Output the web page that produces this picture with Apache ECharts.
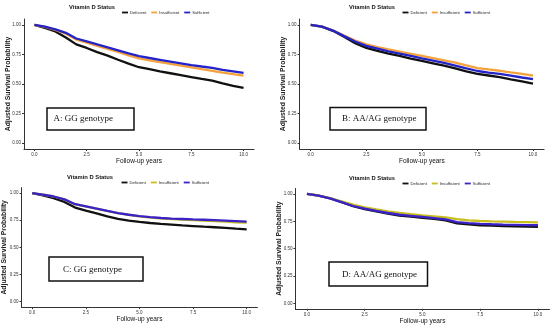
<!DOCTYPE html>
<html>
<head>
<meta charset="utf-8">
<script src="https://cdn.jsdelivr.net/npm/echarts@6/dist/echarts.min.js"></script>
<style>html,body{margin:0;padding:0;background:#fff}#c{width:550px;height:328px}</style>
</head>
<body>
<div id="c"></div>
<script>
// ---- data ----
const years = [0,0.5,1,1.5,2,2.5,3,3.5,4,4.5,5,5.5,6,6.5,7,7.5,8,8.5,9,9.5,10];
const statusNames = ['Deficient','Insufficient','Sufficient'];
const xTicks = [0,2.5,5,7.5,10];
const yTicks = [0,0.25,0.5,0.75,1];
const panelLabels = ['A: GG genotype','B: AA/AG genotype','C: GG genotype','D: AA/AG genotype'];

const defA = [1,0.975,0.945,0.893,0.835,0.805,0.77,0.74,0.705,0.672,0.642,0.625,0.607,0.591,0.575,0.559,0.543,0.528,0.505,0.485,0.467];
const insA = [1,0.983,0.958,0.926,0.876,0.85,0.823,0.797,0.771,0.743,0.716,0.70,0.685,0.67,0.655,0.64,0.625,0.612,0.597,0.584,0.571];
const sufA = [1,0.985,0.962,0.933,0.885,0.86,0.835,0.81,0.785,0.76,0.736,0.72,0.705,0.69,0.675,0.66,0.648,0.637,0.62,0.607,0.594];

const defB = [1,0.985,0.95,0.9,0.845,0.805,0.78,0.757,0.737,0.715,0.695,0.675,0.655,0.633,0.607,0.585,0.572,0.558,0.54,0.523,0.503];
const insB = [1,0.986,0.955,0.91,0.868,0.835,0.813,0.792,0.773,0.755,0.737,0.718,0.7,0.68,0.657,0.635,0.623,0.612,0.598,0.585,0.57];
const sufB = [1,0.985,0.952,0.905,0.86,0.823,0.8,0.777,0.757,0.737,0.717,0.698,0.678,0.656,0.632,0.61,0.597,0.585,0.57,0.555,0.541];

const defC = [1,0.978,0.952,0.918,0.866,0.838,0.812,0.786,0.762,0.746,0.734,0.724,0.716,0.709,0.702,0.696,0.69,0.685,0.679,0.672,0.666];
const insC = [1,0.985,0.968,0.942,0.897,0.877,0.856,0.835,0.816,0.8,0.785,0.774,0.766,0.76,0.755,0.75,0.746,0.742,0.736,0.731,0.727];
const sufC = [1,0.985,0.968,0.942,0.897,0.877,0.856,0.835,0.816,0.8,0.788,0.778,0.77,0.765,0.761,0.757,0.754,0.751,0.746,0.741,0.736];

const defD = [1,0.985,0.96,0.925,0.888,0.862,0.84,0.82,0.803,0.793,0.782,0.772,0.758,0.732,0.722,0.714,0.71,0.707,0.705,0.702,0.7];
const insD = [1,0.986,0.962,0.932,0.902,0.878,0.858,0.84,0.826,0.815,0.805,0.796,0.785,0.77,0.758,0.753,0.75,0.748,0.745,0.743,0.741];
const sufD = [1,0.985,0.96,0.925,0.89,0.865,0.845,0.826,0.81,0.8,0.79,0.78,0.767,0.743,0.733,0.727,0.723,0.72,0.718,0.716,0.714];

// ---- layout / style ----
const panels = [
  {grid:{left:24, top:19, width:230, height:130}, series:[defA,insA,sufA], colors:['#111111','#F5A23C','#2323C8'], legendLeft:117, legendTop:4.5, titleRight:115, yGap:12.5},
  {grid:{left:299.6, top:19, width:244.5, height:130}, series:[defB,insB,sufB], colors:['#111111','#F5A23C','#2323C8'], legendLeft:397.5, legendTop:4.5, titleRight:395, yGap:12.5},
  {grid:{left:21, top:187.6, width:236.4, height:119.5}, series:[defC,insC,sufC], colors:['#111111','#C9BE1E','#3B22C8'], legendLeft:116.5, legendTop:174.5, titleRight:113, yGap:13.5},
  {grid:{left:295.4, top:188.5, width:254.1, height:120.3}, series:[defD,insD,sufD], colors:['#111111','#C9BE1E','#3B22C8'], legendLeft:397.5, legendTop:175.5, titleRight:395, yGap:13}
];
const boxes = [
  {x:47, y:108, w:87, h:22, tx:53.5, ty:119},
  {x:330, y:107.5, w:96, h:22.5, tx:342, ty:119},
  {x:49, y:257, w:94, h:24, tx:63, ty:269.5},
  {x:329, y:262, w:98.5, h:24, tx:342, ty:274.5}
];

const font = 'Liberation Sans, Arial, sans-serif';
const grids = [], xAxes = [], yAxes = [], series = [], legends = [], graphics = [];

panels.forEach((p, i) => {
  grids.push(Object.assign({containLabel:false}, p.grid));
  xAxes.push({
    gridIndex:i, type:'value', min:-0.5, max:10.5,
    name:'Follow-up years', nameLocation:'middle', nameGap:9, nameMoveOverlap:false,
    nameTextStyle:{fontFamily:font, fontSize:6.5, color:'#111'},
    axisLine:{onZero:false, lineStyle:{color:'#333', width:1}},
    axisTick:{customValues:xTicks, length:2, lineStyle:{color:'#333'}},
    axisLabel:{customValues:xTicks, fontFamily:font, fontSize:4.5, color:'#333', margin:3,
      formatter:v => v.toFixed(1)},
    splitLine:{show:false}
  });
  yAxes.push({
    gridIndex:i, type:'value', min:-0.05, max:1.05,
    name:'Adjusted Survival Probability', nameLocation:'middle', nameGap:p.yGap, nameRotate:90,
    nameMoveOverlap:false,
    nameTextStyle:{fontFamily:font, fontSize:6.8, fontWeight:'bold', color:'#222'},
    axisLine:{show:true, onZero:false, lineStyle:{color:'#333', width:1}},
    axisTick:{show:true, customValues:yTicks, length:2, lineStyle:{color:'#333'}},
    axisLabel:{customValues:yTicks, fontFamily:font, fontSize:4.5, color:'#333', margin:3,
      formatter:v => v.toFixed(2)},
    splitLine:{show:false}
  });
  p.series.forEach((vals, k) => {
    series.push({
      name:statusNames[k], type:'line', xAxisIndex:i, yAxisIndex:i,
      data:years.map((y, j) => [y, vals[j]]),
      showSymbol:false, symbol:'none', smooth:false,
      lineStyle:{color:p.colors[k], width:2.3},
      itemStyle:{color:p.colors[k]},
      z:3 + k, silent:true, animation:false
    });
  });
  legends.push({
    left:p.legendLeft, top:p.legendTop, orient:'horizontal',
    itemWidth:6, itemHeight:1.8, itemGap:5, icon:'rect', selectedMode:false,
    textStyle:{fontFamily:font, fontSize:4.2, color:'#222', lineHeight:6, padding:[0,0,0,-3]},
    data:statusNames.map((n, k) => ({name:n, itemStyle:{color:p.colors[k]}}))
  });
  graphics.push({
    type:'text', x:p.titleRight, y:p.legendTop + 3,
    style:{text:'Vitamin D Status', fontFamily:font, fontSize:5.8, fontWeight:'bold', fill:'#111',
      align:'right', verticalAlign:'middle'}
  });
  const b = boxes[i];
  graphics.push({
    type:'rect', shape:{x:b.x, y:b.y, width:b.w, height:b.h},
    style:{fill:'#fff', stroke:'#111', lineWidth:1.5}, z:10
  });
  graphics.push({
    type:'text', x:b.tx, y:b.ty, z:11,
    style:{text:panelLabels[i], fontFamily:'Liberation Serif, DejaVu Serif, serif', fontSize:9,
      fill:'#111', align:'left', verticalAlign:'middle'}
  });
});

const chart = echarts.init(document.getElementById('c'), null, {renderer:'canvas'});
chart.setOption({
  animation:false,
  backgroundColor:'#ffffff',
  grid:grids, xAxis:xAxes, yAxis:yAxes, series:series, legend:legends,
  graphic:{elements:graphics}
});
</script>
</body>
</html>
